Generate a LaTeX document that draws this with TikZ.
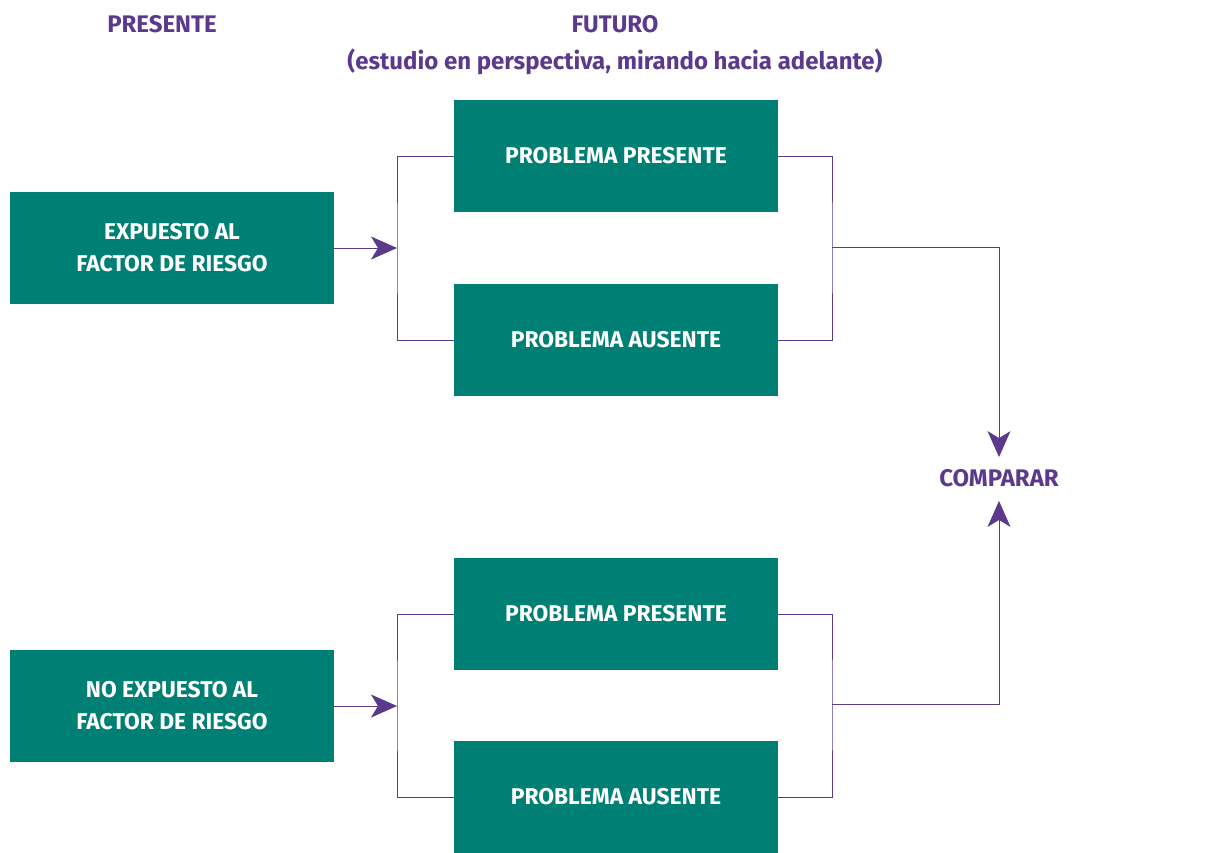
\documentclass[tikz,border=0pt]{standalone}
\usepackage{fontspec}
\setmainfont{Fira Sans}
\usetikzlibrary{arrows.meta}
\definecolor{teal1}{HTML}{008075}
\definecolor{purp}{HTML}{5B3A8E}
\begin{document}
\begin{tikzpicture}[x=1pt,y=-1pt,
  box/.style={fill=teal1,draw=none,minimum width=324pt,minimum height=112pt,text=white,font=\bfseries\fontsize{22.8}{32}\selectfont,align=center,inner sep=0pt},
  ttl/.style={text=purp,font=\bfseries\fontsize{24}{28}\selectfont,inner sep=0pt},
  ln/.style={draw=purp,line width=0.9pt},
  arr/.style={ln,-{Stealth[length=26pt,width=23pt,inset=7pt]}}]
\useasboundingbox (0,0) rectangle (1213,852);
\node[ttl] (pres) at (162,24) {PRESENTE};
\node[ttl] (fut) at (615,24) {FUTURO};
\node[ttl] (sub) at (615,62) {(estudio en perspectiva, mirando hacia adelante)};
\node[box] (exp) at (172,248) {EXPUESTO AL\\FACTOR DE RIESGO};
\node[box] (pp1) at (616,156) {PROBLEMA PRESENTE};
\node[box] (pa1) at (616,340) {PROBLEMA AUSENTE};
\node[box] (nexp) at (172,706) {NO EXPUESTO AL\\FACTOR DE RIESGO};
\node[box] (pp2) at (616,614) {PROBLEMA PRESENTE};
\node[box] (pa2) at (616,797) {PROBLEMA AUSENTE};
\node[ttl] (comp) at (999,478) {COMPARAR};
\coordinate (l1) at (397,248);
\coordinate (l2) at (397,706);
\coordinate (r1) at (832,247);
\coordinate (r2) at (832,704);
\draw[ln] (pp1.west) -| (l1) |- (pa1.west);
\draw[ln] (pp2.west) -| (l2) |- (pa2.west);
\draw[arr] (exp.east) -- (l1);
\draw[arr] (nexp.east) -- (l2);
\draw[ln] (pp1.east) -| (r1) |- (pa1.east);
\draw[ln] (pp2.east) -| (r2) |- (pa2.east);
\draw[arr] (r1) -| ([yshift=12pt]comp.north);
\draw[arr] (r2) -| ([yshift=-14pt]comp.south);
\end{tikzpicture}
\end{document}
